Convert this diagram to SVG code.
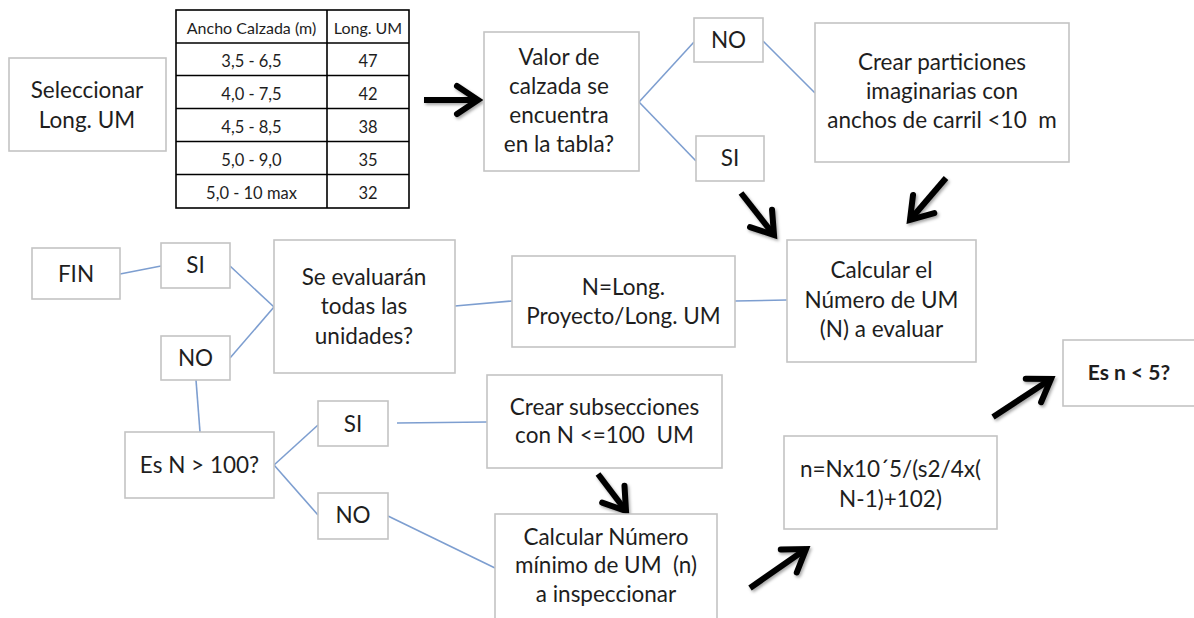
<svg xmlns="http://www.w3.org/2000/svg" width="1194" height="618" viewBox="0 0 1194 618">
<style>
.box{fill:#fff;stroke:#c4c4c4;stroke-width:1.6}
.t{font-family:Lato,"Open Sans","Liberation Sans",sans-serif;font-size:22.5px;fill:#1e1e1e;text-anchor:middle}
.tb{font-family:Lato,"Open Sans","Liberation Sans",sans-serif;font-size:16.5px;fill:#1e1e1e;text-anchor:middle}
.th{font-family:Lato,"Open Sans","Liberation Sans",sans-serif;font-size:16px;fill:#1e1e1e;text-anchor:middle}
.grid{stroke:#000;stroke-width:1.6;fill:none}
.ln{stroke:#7d9ed0;stroke-width:1.6;fill:none}
.ar{stroke:#000;stroke-width:6;fill:none;marker-end:url(#head)}
</style>
<defs>
<marker id="head" markerUnits="userSpaceOnUse" viewBox="0 0 36 36" markerWidth="36" markerHeight="36" refX="30" refY="18" orient="auto">
<path d="M9,4 L30,18 L9,32" fill="none" stroke="#000" stroke-width="6" stroke-linejoin="miter" stroke-linecap="round"/>
</marker>
<filter id="sh" x="-30%" y="-30%" width="160%" height="160%">
<feDropShadow dx="1.5" dy="2" stdDeviation="1.5" flood-color="#000" flood-opacity="0.35"/>
</filter>
</defs>

<g id="connectors">
<path class="ln" d="M639,102 L694,42"/>
<path class="ln" d="M639,102 L696,161"/>
<path class="ln" d="M763,41 L815,93"/>
<path class="ln" d="M120,274 L161,266"/>
<path class="ln" d="M230,266 L274,307"/>
<path class="ln" d="M230,358 L274,307"/>
<path class="ln" d="M196,380 L200,432"/>
<path class="ln" d="M274,465 L318,425"/>
<path class="ln" d="M274,465 L318,515"/>
<path class="ln" d="M397,423 L487,422"/>
<path class="ln" d="M388,516 L495,568"/>
<path class="ln" d="M455,306 L512,301"/>
<path class="ln" d="M735,301 L787,300"/>
<g filter="url(#sh)">
<path class="ar" d="M424,100 L478,100"/>
<path class="ar" d="M741,193 L774,235"/>
<path class="ar" d="M946,178 L910,220"/>
<path class="ar" d="M598,474 L626,511"/>
<path class="ar" d="M750,588 L806,549"/>
<path class="ar" d="M993,417 L1051,379"/>
</g>
</g>

<g id="seleccionar">
<rect class="box" x="9" y="58" width="157" height="93"/>
<text class="t" x="87" y="98">Seleccionar</text>
<text class="t" x="87" y="128">Long. UM</text>
</g>

<g id="tabla">
<rect class="grid" x="176" y="10" width="233" height="198"/>
<path class="grid" d="M327,10 V208 M176,43 H409 M176,75.5 H409 M176,108.5 H409 M176,141.5 H409 M176,174.5 H409"/>
<text class="th" x="251.5" y="34">Ancho Calzada (m)</text>
<text class="th" x="368" y="34">Long. UM</text>
<text class="tb" x="251.5" y="67">3,5 - 6,5</text>
<text class="tb" x="368" y="67">47</text>
<text class="tb" x="251.5" y="100">4,0 - 7,5</text>
<text class="tb" x="368" y="100">42</text>
<text class="tb" x="251.5" y="133">4,5 - 8,5</text>
<text class="tb" x="368" y="133">38</text>
<text class="tb" x="251.5" y="166">5,0 - 9,0</text>
<text class="tb" x="368" y="166">35</text>
<text class="tb" x="251.5" y="199">5,0 - 10 max</text>
<text class="tb" x="368" y="199">32</text>
</g>

<g id="valor">
<rect class="box" x="484" y="32" width="155" height="139"/>
<text class="t" x="559" y="65">Valor de</text>
<text class="t" x="559" y="94">calzada se</text>
<text class="t" x="559" y="123">encuentra</text>
<text class="t" x="559" y="152">en la tabla?</text>
</g>

<g id="no1">
<rect class="box" x="694" y="18" width="69" height="44"/>
<text class="t" x="728.5" y="48">NO</text>
</g>

<g id="si1">
<rect class="box" x="696" y="136" width="68" height="45"/>
<text class="t" x="730" y="166">SI</text>
</g>

<g id="particiones">
<rect class="box" x="815" y="23" width="254" height="139"/>
<text class="t" x="942" y="70">Crear particiones</text>
<text class="t" x="942" y="99">imaginarias con</text>
<text class="t" x="942" y="128" xml:space="preserve">anchos de carril &lt;10  m</text>
</g>

<g id="calcularN">
<rect class="box" x="787" y="240" width="189" height="122"/>
<text class="t" x="881.5" y="278">Calcular el</text>
<text class="t" x="881.5" y="308">Número de UM</text>
<text class="t" x="881.5" y="337">(N) a evaluar</text>
</g>

<g id="nlong">
<rect class="box" x="512" y="256" width="223" height="91"/>
<text class="t" x="623.5" y="295">N=Long.</text>
<text class="t" x="623.5" y="324">Proyecto/Long. UM</text>
</g>

<g id="evaluaran">
<rect class="box" x="274" y="240" width="181" height="133"/>
<text class="t" x="364" y="285">Se evaluarán</text>
<text class="t" x="364" y="314">todas las</text>
<text class="t" x="364" y="344">unidades?</text>
</g>

<g id="fin">
<rect class="box" x="32" y="248" width="88" height="51"/>
<text class="t" x="76" y="282">FIN</text>
</g>

<g id="si2">
<rect class="box" x="161" y="243" width="69" height="45"/>
<text class="t" x="195.5" y="273">SI</text>
</g>

<g id="no2">
<rect class="box" x="161" y="336" width="69" height="44"/>
<text class="t" x="195.5" y="366">NO</text>
</g>

<g id="esN100">
<rect class="box" x="125" y="432" width="149" height="66"/>
<text class="t" x="199.5" y="473">Es N &gt; 100?</text>
</g>

<g id="si3">
<rect class="box" x="318" y="401" width="70" height="45"/>
<text class="t" x="353" y="432">SI</text>
</g>

<g id="no3">
<rect class="box" x="318" y="493" width="70" height="46"/>
<text class="t" x="353" y="523">NO</text>
</g>

<g id="subsecciones">
<rect class="box" x="487" y="375" width="235" height="93"/>
<text class="t" x="604.5" y="415">Crear subsecciones</text>
<text class="t" x="604.5" y="443" xml:space="preserve">con N &lt;=100  UM</text>
</g>

<g id="minimo">
<rect class="box" x="495" y="514" width="222" height="110"/>
<text class="t" x="606" y="545">Calcular Número</text>
<text class="t" x="606" y="573" xml:space="preserve">mínimo de UM  (n)</text>
<text class="t" x="606" y="602">a inspeccionar</text>
</g>

<g id="formula">
<rect class="box" x="784" y="436" width="213" height="93"/>
<text class="t" x="890.5" y="477">n=Nx10´5/(s2/4x(</text>
<text class="t" x="890.5" y="507">N-1)+102)</text>
</g>

<g id="esn5">
<rect class="box" x="1063" y="340" width="140" height="66"/>
<text class="t" x="1129" y="380" style="font-weight:bold;font-size:21px">Es n &lt; 5?</text>
</g>
</svg>
